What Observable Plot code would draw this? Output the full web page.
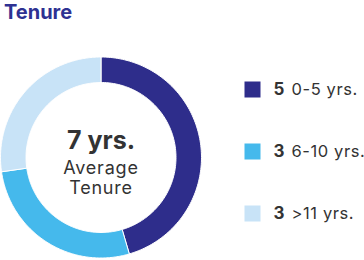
<!DOCTYPE html>
<html>
<head>
<meta charset="utf-8">
<script src="https://cdn.jsdelivr.net/npm/d3@7"></script>
<script src="https://cdn.jsdelivr.net/npm/@observablehq/plot@0.6"></script>
<style>
  html, body { margin: 0; padding: 0; background: #fff; }
  #chart svg { display: block; }
  #chart svg .wide text { letter-spacing: 0.8px; }
  #chart svg .wide2 text { letter-spacing: 0.6px; }
</style>
</head>
<body>
<div id="chart"></div>
<script>
// ---- data ----
const title = "Tenure";
const categories = ["0-5 yrs.", "6-10 yrs.", ">11 yrs."];
const counts = [5, 3, 3];
const colors = ["#2e2d8b", "#45b9ec", "#c8e3f7"];
const centerValue = "7 yrs.";
const centerLines = ["Average", "Tenure"];

// ---- layout ----
const W = 364, H = 260;
const cx = 100.5, cy = 157, rOuter = 100.5, rInner = 75;
const font = "Inter, Lato, sans-serif";
const textColor = "#333333";

// slice geometry via d3.pie (clockwise from 12 o'clock)
const pie = d3.pie().sort(null).value(d => d.count);
const slices = pie(categories.map((c, i) => ({cat: c, count: counts[i], color: colors[i]})));
const arcPts = [];
slices.forEach(s => {
  const n = 120;
  const pts = [];
  for (let k = 0; k <= n; k++) {
    const a = s.startAngle + (s.endAngle - s.startAngle) * k / n;
    pts.push([cx + rOuter * Math.sin(a), cy - rOuter * Math.cos(a)]);
  }
  for (let k = n; k >= 0; k--) {
    const a = s.startAngle + (s.endAngle - s.startAngle) * k / n;
    pts.push([cx + rInner * Math.sin(a), cy - rInner * Math.cos(a)]);
  }
  pts.push(pts[0]);
  pts.forEach(p => arcPts.push({x: p[0], y: p[1], cat: s.data.cat, color: s.data.color}));
});

const rowY = [89, 151, 213];
const legend = categories.map((c, i) => ({cat: c, count: counts[i], color: colors[i], y: rowY[i]}));

const plot = Plot.plot({
  width: W,
  height: H,
  margin: 0,
  x: {domain: [0, W], range: [0, W], axis: null},
  y: {domain: [0, H], range: [0, H], axis: null},
  style: {fontFamily: font, background: "#fff"},
  marks: [
    Plot.line(arcPts, {x: "x", y: "y", z: "cat", fill: "color", stroke: "#ffffff", strokeWidth: 1, curve: "linear"}),
    Plot.text([title], {x: 3.5, y: 12.5, text: d => d, textAnchor: "start", fontSize: 20, fontWeight: 700, fill: "#2e3192"}),
    Plot.text([centerValue], {x: cx, y: 140, text: d => d, fontSize: 25, fontWeight: 700, fill: textColor}),
    Plot.text(centerLines, {x: cx, y: (d, i) => [167.5, 187.5][i], text: d => d, fontSize: 18, fill: textColor, className: "wide"}),
    Plot.dot(legend, {x: 252, y: "y", symbol: "square", r: 9.03, fill: "color", stroke: null}),
    Plot.text(legend, {x: 273, y: "y", text: d => String(d.count), textAnchor: "start", fontSize: 17, fontWeight: 700, fill: textColor}),
    Plot.text(legend, {x: 291, y: "y", text: "cat", textAnchor: "start", fontSize: 16.5, fill: textColor, className: "wide2"})
  ]
});
document.getElementById("chart").appendChild(plot);
</script>
</body>
</html>
